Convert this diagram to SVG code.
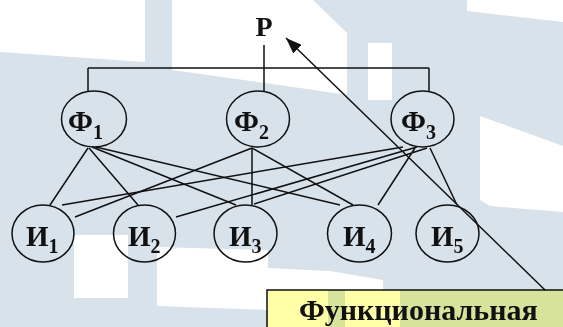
<svg xmlns="http://www.w3.org/2000/svg" width="563" height="327" viewBox="0 0 563 327">
  <style>
    .bg { fill: #d7e2eb; }
    .wh { fill: #ffffff; }
    .node { fill: none; stroke: #111; stroke-width: 1.5; }
    .edge { fill: none; stroke: #111; stroke-width: 1.5; }
    .lbl { font-family: "Liberation Serif", "Times New Roman", serif; font-weight: bold; fill: #111; }
    .main { font-size: 29px; }
    .sub { font-size: 20px; }
    .box { fill: #ffffa8; stroke: #111; stroke-width: 1.5; mix-blend-mode: multiply; }
  </style>
  <defs>
    <marker id="arrow" markerUnits="userSpaceOnUse" markerWidth="18" markerHeight="12" refX="16" refY="6" orient="auto">
      <path d="M0,0 L16,6 L0,12 Z" fill="#111"/>
    </marker>
  </defs>

  <!-- backdrop -->
  <g id="backdrop">
    <rect class="bg" x="0" y="0" width="563" height="327"/>
    <path class="wh" d="M0,0 H145 V62 L0,52 Z"/>
    <path class="wh" d="M172,0 H313 L347,33 V95 L300,88 L172,70 Z"/>
    <path class="wh" d="M368,43 H392 V100 H368 Z"/>
    <path class="wh" d="M467,0 H563 V22 L467,11 Z"/>
    <path class="wh" d="M480,116 L563,146 V212 L490,206 L480,200 Z"/>
    <path class="wh" d="M74,235 H128 V298 H74 Z"/>
    <path class="wh" d="M157,247 L268,250 V268 L330,271 L383,280 V290 H268 V310 L157,306 Z"/>
    <path class="wh" d="M268,290 H328 V327 H268 Z"/>
    <path class="wh" d="M345,290 H400 V327 H345 Z"/>
  </g>

  <!-- connectors -->
  <g id="connectors">
    <path class="edge" d="M88,68 H429 M88,68 V91 M429,68 V91 M264,45 V91"/>
    <!-- Ф1 -->
    <path class="edge" d="M88,148 L50,205 M89,148 L138,205 M92,147 L236,205 M96,147 L340,205"/>
    <!-- Ф2 -->
    <path class="edge" d="M252,148 L75,217 M252,148 V205 M252,148 L353,205"/>
    <!-- Ф3 -->
    <path class="edge" d="M403,147 L62,205 M417,147 L176,217 M427,148 L254,204 M415,148 L378,205 M430,148 L457,205"/>
    <!-- arrow to Р -->
    <line class="edge" x1="545" y1="290" x2="286" y2="38" marker-end="url(#arrow)"/>
  </g>

  <g id="root">
    <text class="lbl" x="264" y="36" font-size="28" text-anchor="middle">Р</text>
  </g>

  <g id="f1">
    <ellipse class="node" cx="94" cy="119" rx="32.5" ry="28"/>
    <text class="lbl main" x="68" y="131">Ф<tspan class="sub" dy="8">1</tspan></text>
  </g>
  <g id="f2">
    <ellipse class="node" cx="258" cy="119" rx="31.5" ry="28"/>
    <text class="lbl main" x="234" y="131">Ф<tspan class="sub" dy="8">2</tspan></text>
  </g>
  <g id="f3">
    <ellipse class="node" cx="422.5" cy="119" rx="31.5" ry="28"/>
    <text class="lbl main" x="401" y="131">Ф<tspan class="sub" dy="8">3</tspan></text>
  </g>

  <g id="i1">
    <ellipse class="node" cx="43" cy="233.5" rx="31" ry="28.5"/>
    <text class="lbl main" x="26" y="246">И<tspan class="sub" dy="7">1</tspan></text>
  </g>
  <g id="i2">
    <ellipse class="node" cx="144.5" cy="233.5" rx="31" ry="28.5"/>
    <text class="lbl main" x="128" y="246">И<tspan class="sub" dy="7">2</tspan></text>
  </g>
  <g id="i3">
    <ellipse class="node" cx="245.5" cy="233.5" rx="31.5" ry="28.5"/>
    <text class="lbl main" x="229" y="246">И<tspan class="sub" dy="7">3</tspan></text>
  </g>
  <g id="i4">
    <ellipse class="node" cx="359.5" cy="233.5" rx="32" ry="28.5"/>
    <text class="lbl main" x="343" y="246">И<tspan class="sub" dy="7">4</tspan></text>
  </g>
  <g id="i5">
    <ellipse class="node" cx="447.5" cy="233.5" rx="31.5" ry="28.5"/>
    <text class="lbl main" x="431" y="246">И<tspan class="sub" dy="7">5</tspan></text>
  </g>

  <g id="note">
    <rect class="box" x="267" y="290" width="310" height="50"/>
    <text class="lbl" x="299" y="320" font-size="30">Функциональная</text>
  </g>
</svg>
